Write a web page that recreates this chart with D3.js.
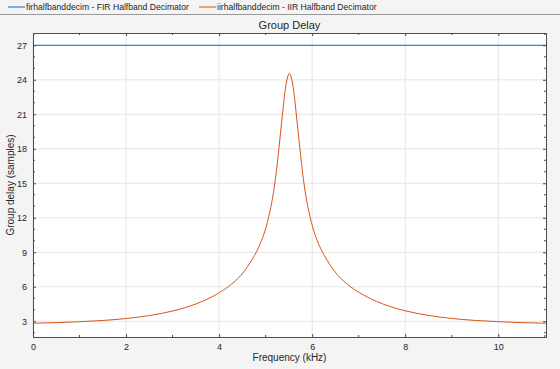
<!DOCTYPE html>
<html>
<head>
<meta charset="utf-8">
<script src="https://cdn.jsdelivr.net/npm/d3@7"></script>
<style>
  body { margin: 0; background: #f4f4f4; }
  svg { display: block; font-family: "Liberation Sans", Arial, sans-serif; }
  .axis text { fill: #262626; font-size: 9px; }
  .axis path, .axis line { stroke: #4d4d4d; }
</style>
</head>
<body>
<svg id="chart"></svg>
<script>
// Series data (frequency in kHz, group delay in samples)
const firFreq = [0, 11.025];
const firDelay = [27, 27];

const iirFreq = [0, 0.51, 1.01, 1.51, 2.01, 2.51, 3.01, 3.26, 3.51, 3.76, 4.01, 4.26, 4.41, 4.51, 4.61, 4.71, 4.81,
  4.91, 5.01, 5.06, 5.11, 5.16, 5.21, 5.26, 5.31, 5.36, 5.41, 5.46, 5.51,
  5.56, 5.61, 5.66, 5.71, 5.76, 5.81, 5.86, 5.91, 5.96, 6.01, 6.11, 6.21, 6.31, 6.41, 6.51, 6.61, 6.76,
  7.01, 7.26, 7.51, 7.76, 8.01, 8.51, 9.01, 9.51, 10.01, 10.51, 11.025];
const iirDelay = [2.83, 2.88, 2.96, 3.07, 3.24, 3.5, 3.9, 4.17, 4.52, 4.95, 5.5, 6.2, 6.75, 7.2, 7.75, 8.38, 9.1,
  10.0, 11.2, 12.0, 12.9, 14.0, 15.4, 17.1, 19.0, 20.95, 22.8, 24.05, 24.55,
  24.05, 22.8, 20.95, 19.0, 17.1, 15.4, 14.0, 12.9, 12.0, 11.2, 10.0, 9.1, 8.38, 7.75, 7.2, 6.75, 6.2,
  5.5, 4.95, 4.52, 4.17, 3.9, 3.5, 3.24, 3.07, 2.96, 2.88, 2.83];

const seriesNames = ['firhalfbanddecim - FIR Halfband Decimator', 'iirhalfbanddecim - IIR Halfband Decimator'];
const seriesColors = ['#0072BD', '#D95319'];

const xTicks = [0, 2, 4, 6, 8, 10];
const yTicks = [3, 6, 9, 12, 15, 18, 21, 24, 27];
const xMinor = d3.range(0, 12, 1);
const yMinor = d3.range(2, 29, 1);

const width = 560, height = 369;
const margin = { top: 33, right: 14, bottom: 32, left: 33 };
const w = width - margin.left - margin.right;
const h = height - margin.top - margin.bottom;

const svg = d3.select('#chart').attr('width', width).attr('height', height);

// legend strip
svg.append('line')
  .attr('x1', 0).attr('x2', width).attr('y1', 14.5).attr('y2', 14.5)
  .attr('stroke', '#9a9a9a').attr('stroke-width', 1);

const legendX = [8, 199];
seriesNames.forEach((name, i) => {
  const g = svg.append('g').attr('transform', `translate(${legendX[i]},7)`);
  g.append('line').attr('x1', 0).attr('x2', 17).attr('y1', 0).attr('y2', 0)
    .attr('stroke', seriesColors[i]).attr('stroke-width', 1);
  g.append('text').attr('x', 18).attr('y', 3.1)
    .attr('font-size', 8.6).attr('fill', '#262626').text(name);
});

const x = d3.scaleLinear().domain([0, 11.025]).range([0, w]);
const y = d3.scaleLinear().domain([1.63, 28.07]).range([h, 0]);

const chart = svg.append('g').attr('transform', `translate(${margin.left},${margin.top})`);

chart.append('rect').attr('width', w).attr('height', h).attr('fill', '#fff');

// grid
chart.append('g').selectAll('line').data(xTicks).join('line')
  .attr('x1', d => x(d)).attr('x2', d => x(d)).attr('y1', 0).attr('y2', h)
  .attr('stroke', '#e6e6e6');
chart.append('g').selectAll('line').data(yTicks).join('line')
  .attr('x1', 0).attr('x2', w).attr('y1', d => y(d)).attr('y2', d => y(d))
  .attr('stroke', '#e6e6e6');

// lines
const line = d3.line().curve(d3.curveMonotoneX).x(d => x(d[0])).y(d => y(d[1]));
const series = [d3.zip(firFreq, firDelay), d3.zip(iirFreq, iirDelay)];
chart.selectAll('.series').data(series).join('path')
  .attr('class', 'series')
  .attr('d', d => line(d))
  .attr('fill', 'none')
  .attr('stroke', (d, i) => seriesColors[i])
  .attr('stroke-width', 1);

// axes with inward ticks on all sides
const fmt = d3.format('d');
chart.append('g').attr('class', 'axis').attr('transform', `translate(0,${h})`)
  .call(d3.axisBottom(x).tickValues(xTicks).tickSize(-3).tickPadding(7).tickFormat(fmt));
chart.append('g').attr('class', 'axis')
  .call(d3.axisLeft(y).tickValues(yTicks).tickSize(-3).tickPadding(6).tickFormat(fmt));
chart.append('g').attr('class', 'axis')
  .call(d3.axisTop(x).tickValues(xTicks).tickSize(-3).tickFormat(''));
chart.append('g').attr('class', 'axis').attr('transform', `translate(${w},0)`)
  .call(d3.axisRight(y).tickValues(yTicks).tickSize(-3).tickFormat(''));

// minor ticks
const minor = chart.append('g').attr('stroke', '#4d4d4d');
xMinor.filter(d => !xTicks.includes(d) && d <= 11.025).forEach(d => {
  minor.append('line').attr('x1', x(d)).attr('x2', x(d)).attr('y1', h).attr('y2', h - 2);
  minor.append('line').attr('x1', x(d)).attr('x2', x(d)).attr('y1', 0).attr('y2', 2);
});
yMinor.filter(d => !yTicks.includes(d)).forEach(d => {
  minor.append('line').attr('x1', 0).attr('x2', 2).attr('y1', y(d)).attr('y2', y(d));
  minor.append('line').attr('x1', w).attr('x2', w - 2).attr('y1', y(d)).attr('y2', y(d));
});

// title and labels
svg.append('text').attr('x', margin.left + w / 2).attr('y', 29)
  .attr('text-anchor', 'middle').attr('font-size', 11).attr('fill', '#262626').text('Group Delay');
svg.append('text').attr('x', margin.left + w / 2).attr('y', 361)
  .attr('text-anchor', 'middle').attr('font-size', 10).attr('fill', '#262626').text('Frequency (kHz)');
svg.append('text').attr('transform', `translate(14,${margin.top + h / 2}) rotate(-90)`)
  .attr('text-anchor', 'middle').attr('font-size', 10).attr('fill', '#262626').text('Group delay (samples)');
</script>
</body>
</html>
